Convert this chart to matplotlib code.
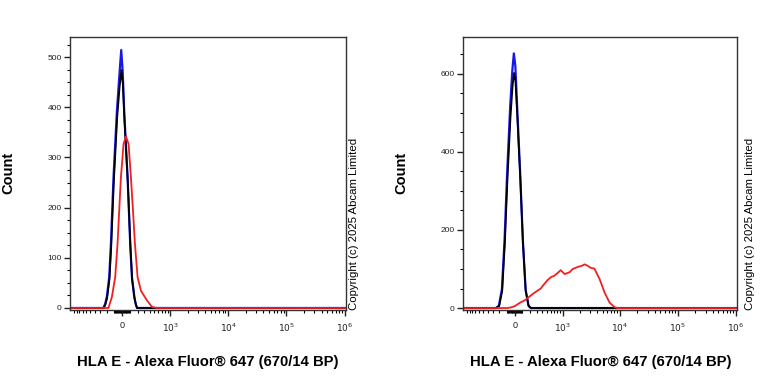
import matplotlib.pyplot as plt
import numpy as np

plt.rcParams['font.family'] = ['Liberation Sans', 'DejaVu Sans']

# fluorescence (data units) and counts
left_blue_x = [-1180, -248, -222, -197, -164, -141, -107, -65, -36, -12, 6, 24, 65, 98, 120, 151, 170, 188, 1.05e6]
left_blue_y = [0, 0, 8, 22, 61, 127, 260, 391, 460, 514, 470, 391, 260, 127, 61, 22, 8, 0, 0]

left_black_x = [-1180, -244, -218, -193, -160, -137, -103, -61, -32, -10, 8, 27, 68, 101, 123, 154, 172, 190, 1.05e6]
left_black_y = [0, 0, 7, 20, 58, 122, 252, 380, 440, 474, 445, 375, 250, 120, 56, 20, 7, 0, 0]

left_red_x = [-1180, -174, -128, -86, -57, -16, 16, 45, 77, 107, 134, 160, 197, 248, 349, 448, 566, 1.05e6]
left_red_y = [0, 0, 22, 61, 127, 260, 327, 342, 327, 260, 193, 127, 61, 34, 15, 2, 0, 0]

right_blue_x = [-1180, -252, -207, -164, -128, -95, -57, -30, -12, 6, 28, 65, 98, 134, 174, 207, 1.05e6]
right_blue_y = [0, 0, 6, 48, 176, 346, 516, 610, 652, 620, 516, 346, 176, 48, 6, 0, 0]

right_black_x = [-1180, -248, -203, -160, -124, -91, -53, -27, -9, 8, 30, 67, 100, 136, 176, 207, 1.05e6]
right_black_y = [0, 0, 5, 44, 168, 330, 490, 570, 602, 580, 490, 330, 168, 44, 5, 0, 0]

right_red_x = [-1180, -90, -40, 0, 36, 73, 98, 138, 164, 207, 252, 318, 373, 433, 524, 602, 687, 748, 813,
               921, 1000, 1088, 1232, 1336, 1510, 1702, 1920, 2166, 2446, 2757, 3105, 3600, 4444, 5400,
               6600, 8068, 9090, 1.05e6]
right_red_y = [0, 0, 2, 5, 10, 15, 17, 22, 26, 32, 38, 45, 50, 60, 72, 79, 82, 86, 90,
               97, 92, 87, 90, 92, 100, 103, 106, 108, 112, 108, 103, 101, 74, 40,
               14, 2, 0, 0]

major_ticks = [0, 1e3, 1e4, 1e5, 1e6]
major_labels = ['0', '$10^3$', '$10^4$', '$10^5$', '$10^6$']
xlabel = 'HLA E - Alexa Fluor® 647 (670/14 BP)'
copyright = 'Copyright (c) 2025 Abcam Limited'

minor = []
for k in [1, 2]:
    for m in range(1, 10):
        minor.append(-m * 10 ** k)
minor.append(-1000)
for k in [1, 2, 3, 4, 5]:
    for m in range(2 if k > 1 else 1, 10):
        minor.append(m * 10 ** k)

fig = plt.figure(figsize=(7.68, 3.84), dpi=100)
ax1 = fig.add_axes([70 / 768, 74 / 384, 276 / 768, 273 / 384])
ax2 = fig.add_axes([463 / 768, 74 / 384, 274 / 768, 273 / 384])

panels = [
    (ax1, left_blue_x, left_blue_y, left_black_x, left_black_y, left_red_x, left_red_y, (-4, 540), 100, 25),
    (ax2, right_blue_x, right_blue_y, right_black_x, right_black_y, right_red_x, right_red_y, (-5, 694), 200, 50),
]

for ax, bx, by, kx, ky, rx, ry, ylim, ymaj, ymin in panels:
    ax.set_xscale('asinh', linear_width=305)
    ax.plot(bx, by, color='#1818e8', lw=1.6)
    ax.plot(kx, ky, color='black', lw=1.3)
    ax.plot(rx, ry, color='#f02020', lw=1.3)
    ax.set_xlim(-1180, 1.05e6)
    ax.set_ylim(*ylim)
    ax.set_xticks(major_ticks)
    ax.set_xticklabels(major_labels)
    ax.set_xticks(minor, minor=True)
    ax.set_yticks(np.arange(0, ylim[1], ymaj))
    ax.set_yticks(np.arange(0, ylim[1], ymin), minor=True)
    ax.tick_params(which='major', length=4, width=1, labelsize=6, pad=2, colors='#222222')
    ax.tick_params(which='minor', length=2.5, width=0.8)
    ax.tick_params(axis='x', which='major', pad=4, labelsize=6.5)
    for s in ax.spines.values():
        s.set_color('#333333')
        s.set_linewidth(1)

for cx in [8, 401]:
    fig.text(cx / 768, 1 - 173 / 384, 'Count', rotation=90, ha='center', va='center',
             fontsize=10.5, fontweight='bold')

fig.text(208 / 768, 1 - 362 / 384, xlabel, ha='center', va='center', fontsize=10.7, fontweight='bold')
fig.text(601 / 768, 1 - 362 / 384, xlabel, ha='center', va='center', fontsize=10.7, fontweight='bold')

fig.text(354 / 768, 1 - 310 / 384, copyright, rotation=90, ha='center', va='bottom', fontsize=8.2)
fig.text(750 / 768, 1 - 310 / 384, copyright, rotation=90, ha='center', va='bottom', fontsize=8.2)

plt.savefig('out.png', dpi=100)
